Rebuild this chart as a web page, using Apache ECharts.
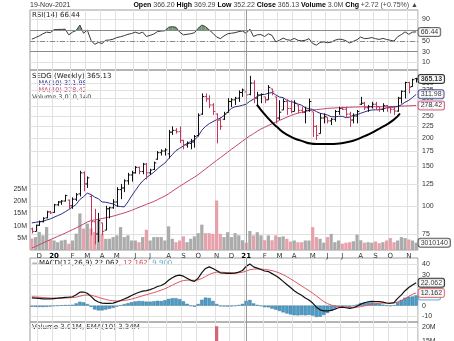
<!DOCTYPE html>
<html>
<head>
<meta charset="utf-8">
<script src="https://cdn.jsdelivr.net/npm/echarts@6/dist/echarts.min.js"></script>
<style>
html,body{margin:0;padding:0;background:#fff}
#chart{width:454px;height:341px}
</style>
</head>
<body>
<div id="chart"></div>
<script>
// Weekly bars (week-ending Fridays)
const weeks = ['2019-11-22','2019-11-29','2019-12-06','2019-12-13','2019-12-20','2019-12-27',
'2020-01-03','2020-01-10','2020-01-17','2020-01-24','2020-01-31','2020-02-07','2020-02-14','2020-02-21','2020-02-28',
'2020-03-06','2020-03-13','2020-03-20','2020-03-27','2020-04-03','2020-04-10','2020-04-17','2020-04-24',
'2020-05-01','2020-05-08','2020-05-15','2020-05-22','2020-05-29','2020-06-05','2020-06-12','2020-06-19','2020-06-26',
'2020-07-03','2020-07-10','2020-07-17','2020-07-24','2020-07-31','2020-08-07','2020-08-14','2020-08-21','2020-08-28',
'2020-09-04','2020-09-11','2020-09-18','2020-09-25','2020-10-02','2020-10-09','2020-10-16','2020-10-23','2020-10-30',
'2020-11-06','2020-11-13','2020-11-20','2020-11-27','2020-12-04','2020-12-11','2020-12-18','2020-12-25',
'2021-01-01','2021-01-08','2021-01-15','2021-01-22','2021-01-29','2021-02-05','2021-02-12','2021-02-19','2021-02-26',
'2021-03-05','2021-03-12','2021-03-19','2021-03-26','2021-04-02','2021-04-09','2021-04-16','2021-04-23','2021-04-30',
'2021-05-07','2021-05-14','2021-05-21','2021-05-28','2021-06-04','2021-06-11','2021-06-18','2021-06-25',
'2021-07-02','2021-07-09','2021-07-16','2021-07-23','2021-07-30','2021-08-06','2021-08-13','2021-08-20','2021-08-27',
'2021-09-03','2021-09-10','2021-09-17','2021-09-24','2021-10-01','2021-10-08','2021-10-15','2021-10-22','2021-10-29',
'2021-11-05','2021-11-12','2021-11-19'];

const opens = [79,77,82,85,88.5,94,93.5,101,104,105, 106,100,107,113,140,125,110,85,75,84,
  78,97,98,104,118,120,129,137,140,148, 142,153,140,145,161,172,175,170,212,216,
  213,195,186,189,192,205,255,305,298,280, 255,240,242,259,290,295,300,318,320,312,
  350,300,310,304,295,330,304,245,266,290, 270,262,280,265,260,265,261,225,209,245,
  247,238,242,262,270,268,255,240,250,282, 285,272,275,282,275,268,278,272,268,263,
  300,322,352,338,366.20];
const highs = [80,82.5,86,89,95,95,102,105,106,112, 106.5,109,114,143,142,135,112,97,93,84,
  100,99,107,121,125,131,140,143,150,149, 155,155,146,157,175,178,180,217,225,221,
  225,196,193,198,206,257,315,315,309,285, 257,247,261,300,300,304,325,331,325,377,
  360,320,315,304,343,330,304,294,299,297, 294,294,280,275,275,299,261,228,257,257,
  247,245,266,275,275,275,261,257,266,304, 289,280,289,289,275,285,280,276,275,304,
  325,355,355,366,369.29];
const lows = [75.5,77,81.5,84.5,88,92,93,100,101,104.5, 97,97,105,110,116,120,74,67.5,69,74,
  78,88,97,99,107,115,124,128,139,138, 138,131,137,144,160,167,167,162,206,209,
  190,178,181,178,181,203,253,289,271,253, 189,217,240,259,274,280,289,304,299,309,
  285,280,285,285,295,309,232,240,266,253, 257,262,257,257,232,261,202,196,209,232,
  232,228,236,253,266,245,224,232,232,280, 266,261,270,266,261,261,261,257,253,261,
  284,299,315,337,352.22];
const closes = [77,82,85,88,94,93,101,104,105,111, 100,107,112,140,125,133,85,75,86,77,
  97,98,104,118,120,129,137,140,148,142, 153,140,144,155,172,175,177,212,216,213,
  195,186,189,192,203,252,305,298,280,262, 240,225,255,290,295,300,318,326,310,350,
  300,310,312,295,335,320,245,260,290,270, 262,285,265,260,265,290,225,205,245,249,
  238,242,262,270,268,255,240,250,262,285, 272,275,282,275,268,278,272,268,263,300,
  322,352,335,362.41,365.13];
const priorClose = 79;

// Weekly volume, millions of shares
const volumes = [4.7,5.3,7.4,6.0,9.4,4.2,3.9,3.2,3.9,4.2, 2.6,3.9,6.7,15.0,8.8,10.8,8.8,7.4,12.2,6.7,
  4.6,4.6,5.3,6.0,9.4,5.3,6.0,3.9,3.9,3.2, 5.3,8.3,3.9,5.3,5.3,5.3,3.9,9.7,4.6,3.2,
  3.9,5.6,3.2,4.6,5.6,6.9,10.4,6.9,6.9,6.6, 20.3,6.6,5.3,7.3,5.3,6.9,6.0,4.0,3.0,7.8,
  6.0,7.3,6.0,4.0,6.0,4.0,6.0,5.3,5.6,4.6, 3.5,3.9,3.2,3.2,3.9,3.9,9.4,5.3,4.6,3.0,
  5.3,6.6,3.2,3.9,2.6,3.0,3.2,3.6,6.3,4.0, 3.0,3.2,3.0,3.5,2.8,3.2,3.9,4.9,3.2,3.9,
  5.3,4.9,4.3,3.9,3.01014];

const ma10 = [84,84.5,85,85.5,86.5,87.5,89,90.5,92,94.0, 96.3,98.8,101.5,106.7,109.8,113.8,112.2,109.3,107.4,104.0,
  103.7,102.8,102.0,99.8,99.3,98.9,104.1,110.6,116.8,123.3, 128.9,133.1,137.1,140.8,146.0,150.6,154.6,161.8,168.6,175.7,
  179.9,184.5,189.0,192.7,195.8,203.5,216.3,224.9,231.3,236.2, 240.7,244.6,251.2,261.0,270.2,275.0,276.3,279.1,282.1,290.9,
  296.9,305.4,311.1,311.6,315.6,317.6,310.3,303.7,301.7,293.7, 289.9,287.4,282.7,279.2,272.2,269.2,267.2,261.7,257.2,255.1,
  252.7,248.4,248.1,249.1,249.4,245.9,247.4,251.9,253.6,257.2, 260.6,263.9,265.9,266.4,266.4,268.7,271.9,273.7,273.8,275.3,
  280.3,288.0,293.3,302.0,311.98];
const ma40 = [65,66,67.2,68.4,69.6,70.8,72,73.2,74.4,75.6, 77,78.4,79.8,81.4,83,84.8,86,86.6,87.2,87.8,
  88.5,89.2,90,91,92,93,94.2,95.5,97,98.5, 100,101.5,103,104.5,106.5,108.5,110.5,113,116,119,
  122,125,128,131,134,137.5,141.5,145.5,150,154.5, 159,163.5,168,173,178,183,188,193.5,199,204,
  209,214,219,223,227,231,235,239,243,247, 251,254.5,257.5,260,262,264,265.5,267,268,269,
  270.5,271,271.5,272,272.5,273,273.5,274,274.3,274.6, 274.8,275,275,275,275,275,275.2,275.5,275.8,276.2,
  276.6,277,277.4,277.9,278.42];

const rsi14 = [53,56,59,63,66,65,70.5,71,71,71.5, 61,66,69,79,64,70,51,43.5,47,45,
  51,51.5,53,56,57.5,59.5,62,63.5,66,63.5, 66,58,60,62.5,67,68,68.5,75,76,75,
  66,61,62,63,65,73,79,76,70,64, 57,54,59,63,64,65,67,68,64,71.5,
  58,61,61.5,58,63,60,48,51,55,52, 51,54.5,51,50,51,54,45,42,47,48,
  46.5,47.5,51,53,52.5,50,46,49,52,57, 54,54.5,56,54,52.5,54.5,52.5,51,49.5,57.5,
  61.5,66.5,62,66,66.44];

const macdLine = [7.6,7.3,7.0,6.6,6.5,6.6,6.9,7.2,7.6,8.0, 8.2,8.6,10.5,13.0,13.2,12.0,9.0,5.5,3.5,2.4,
  2.2,2.2,2.5,3.6,5.0,6.5,8.0,9.8,11.5,13.0, 14.0,14.5,15.5,16.8,18.5,19.5,21.5,24.5,27.0,28.8,
  29.5,28.5,26.5,24.5,23.5,26.5,32.0,36.0,37.5,36.0, 34.0,31.8,31.5,31.2,31.3,31.5,32.5,34.0,38.0,40.3,
  37.5,36.3,35.0,33.5,33.0,31.0,29.0,26.5,23.5,20.5, 17.5,14.5,12.0,10.0,7.5,5.5,2.5,-1.5,-4.0,-5.0,
  -5.1,-4.5,-3.5,-2.0,-1.5,-2.0,-2.7,-2.0,-0.5,1.5, 2.8,3.8,4.2,4.0,3.9,3.5,2.6,2.3,3.0,7.0,
  10.5,14.5,17.5,20.0,22.062];
const macdSignal = [8.6,8.4,8.2,7.9,7.6,7.4,7.3,7.3,7.3,7.4, 7.6,7.8,8.3,9.2,10.0,10.4,10.1,9.2,8.1,7.0,
  6.0,5.2,4.7,4.5,4.6,5.0,5.6,6.4,7.4,8.5, 9.6,10.6,11.6,12.6,13.8,15.0,16.3,18.0,19.8,21.6,
  23.2,24.3,24.7,24.7,24.5,24.9,26.3,28.2,30.1,31.5, 32.4,32.4,32.2,32.0,31.9,31.8,31.9,32.3,33.4,34.8,
  35.3,35.5,35.4,35.0,34.6,33.9,32.9,31.6,30.0,28.1, 26.0,23.7,21.4,19.1,16.8,14.5,12.1,9.4,6.7,4.0,
  2.0,0.6,-0.3,-0.9,-1.1,-1.3,-1.6,-1.7,-1.5,-0.9, -0.2,0.6,1.3,1.8,2.2,2.5,2.5,2.5,2.6,3.5,
  4.9,6.8,8.9,11.1,12.162];

// Hand-drawn cup annotation: [week index, price]
const cupArc = [[60.9,281],[63.6,248],[66.3,224],[69.0,207],[72.6,195],[77.1,188],[80.7,188],
  [85.2,191.5],[89.7,202.5],[94.2,220.6],[97.8,239.8],[99.6,256.8]];

const priceTicks = [75,100,125,150,175,200,225,250,275,300,325,350];
const rsiTicks = [10,30,50,70,90];
const macdTicks = [-10,0,10,20,30,40];
const volTicks = [5,10,15,20,25];
const lowerVolTicks = [15,20];
const RSI_HIGH = 70, RSI_MID = 50, RSI_LOW = 30;

const monthInitials = ['J','F','M','A','M','J','J','A','S','O','N','D'];
const last = weeks.length - 1;
const upWeek = closes.map((c, i) => c >= (i ? closes[i - 1] : priorClose));
// MACD histogram is the MACD line minus its signal line
const macdHist = macdLine.map((v, i) => +(v - macdSignal[i]).toFixed(3));
const isMonthStart = (i) => i > 0 && weeks[i].slice(5, 7) !== weeks[i - 1].slice(5, 7);
const yearStart = weeks.indexOf('2021-01-01');

const FONT = '"DejaVu Sans", Verdana, sans-serif';
const NUMFONT = '"Liberation Sans", Arial, sans-serif';
const RED = '#c3385c';
const NAVY = '#2c2c86';
const GRID_LINE = '#e1e1e1';
const L = 30, W = 388;

const ohlcData = weeks.map((w, i) => [i, opens[i], highs[i], lows[i], closes[i]]);
const rsiData = rsi14.map((v, i) => [i, v]);
const volData = volumes.map((v, i) => ({ value: v, itemStyle: { color: upWeek[i] ? '#ababab' : '#e6a1ab' } }));
const lowerVolData = volumes.map((v, i) => ({ value: v, itemStyle: { color: upWeek[i] ? '#a0a0a0' : '#d46676' } }));

function xAxisFor(gridIndex, showLabels) {
  return {
    type: 'category', gridIndex, data: weeks, boundaryGap: true,
    axisLine: { show: false }, axisTick: { show: false },
    axisLabel: {
      show: showLabels, interval: (i) => isMonthStart(i), margin: 3,
      fontSize: 7, fontFamily: FONT, color: '#333',
      formatter: (v) => v.slice(5, 7) === '01' ? '{yr|' + v.slice(2, 4) + '}' : monthInitials[+v.slice(5, 7) - 1],
      rich: { yr: { fontWeight: 'bold', fontSize: 7, fontFamily: FONT, color: '#000' } }
    },
    splitLine: { show: true, interval: (i) => isMonthStart(i), lineStyle: { color: GRID_LINE, width: 1 } }
  };
}

function rightAxis(gridIndex, extra, ticks, fmt) {
  return Object.assign({
    gridIndex, position: 'right', scale: false,
    axisLine: { show: false },
    axisTick: { show: false, customValues: ticks },
    axisLabel: { customValues: ticks, fontSize: 7, fontFamily: NUMFONT, color: '#333', margin: 4, formatter: fmt },
    splitLine: { show: true, lineStyle: { color: GRID_LINE, width: 1 } }
  }, extra);
}

function tag(xAxisIndex, yAxisIndex, value, text, border, opts) {
  opts = opts || {};
  return {
    type: 'scatter', xAxisIndex, yAxisIndex, symbolSize: 1, silent: true, z: opts.z || 20,
    itemStyle: { color: 'rgba(0,0,0,0)' },
    data: [[last, value]],
    label: {
      show: true, position: 'right', distance: 2, formatter: text,
      fontSize: 7, fontFamily: NUMFONT, color: opts.color || '#000', fontWeight: opts.bold ? 'bold' : 'normal',
      backgroundColor: '#fff', borderColor: border, borderWidth: 1, borderRadius: 2, padding: [1, 2, 0, 2]
    }
  };
}

function yearLine() {
  return { silent: true, symbol: 'none', label: { show: false }, animation: false,
    lineStyle: { color: '#9a9a9a', width: 1, type: 'solid' }, data: [{ xAxis: yearStart }] };
}

function renderOhlc(params, api) {
  const i = api.value(0);
  const hi = api.coord([i, api.value(2)]);
  const lo = api.coord([i, api.value(3)]);
  const op = api.coord([i, api.value(1)]);
  const cl = api.coord([i, api.value(4)]);
  const x = Math.round(hi[0]) + 0.5;
  const style = { stroke: upWeek[params.dataIndex] ? '#111' : RED, lineWidth: 1 };
  return {
    type: 'group', children: [
      { type: 'line', shape: { x1: x, y1: hi[1], x2: x, y2: lo[1] }, style },
      { type: 'line', shape: { x1: x - 1.8, y1: op[1], x2: x, y2: op[1] }, style },
      { type: 'line', shape: { x1: x, y1: cl[1], x2: x + 1.8, y2: cl[1] }, style }
    ]
  };
}

// Shade the RSI where it runs above the overbought line
function renderRsiFill(params, api) {
  const i = params.dataIndex;
  if (i >= rsi14.length - 1) return;
  const v0 = rsi14[i], v1 = rsi14[i + 1];
  if (v0 <= RSI_HIGH && v1 <= RSI_HIGH) return;
  const a = api.coord([i, v0]), b = api.coord([i + 1, v1]);
  const a0 = api.coord([i, RSI_HIGH]), b0 = api.coord([i + 1, RSI_HIGH]);
  let pts;
  if (v0 > RSI_HIGH && v1 > RSI_HIGH) {
    pts = [a, b, b0, a0];
  } else {
    const t = (RSI_HIGH - v0) / (v1 - v0);
    const cross = [a[0] + t * (b[0] - a[0]), a0[1]];
    pts = v0 > RSI_HIGH ? [a, cross, a0] : [cross, b, b0];
  }
  return { type: 'polygon', shape: { points: pts }, style: { fill: '#6f9c72' } };
}

const chg = closes[last] - closes[last - 1];
const chgPct = chg / closes[last - 1] * 100;
const fmtInt = (n) => Math.round(n).toString().replace(/\B(?=(\d{3})+(?!\d))/g, ',');

const gridBox = (top, height) => ({ left: L, width: W, top, height, show: true,
  borderColor: '#9c9c9c', borderWidth: 1, containLabel: false, outerBoundsMode: 'none' });

const option = {
  animation: false,
  backgroundColor: '#fff',
  textStyle: { fontFamily: FONT },
  grid: [gridBox(10, 60), gridBox(70, 180), gridBox(258, 64), gridBox(322, 61)],
  xAxis: [
    xAxisFor(0, false), xAxisFor(1, true), xAxisFor(2, false), xAxisFor(3, false),
    { type: 'value', gridIndex: 1, min: -0.5, max: weeks.length - 0.5, show: false }
  ],
  yAxis: [
    rightAxis(0, { type: 'value', min: -3.8, max: 106.8 }, rsiTicks),
    rightAxis(1, { type: 'log', logBase: 10, min: 63.7, max: 400 }, priceTicks),
    { type: 'value', gridIndex: 1, position: 'left', min: 0, max: 73.8,
      axisLine: { show: false }, axisTick: { show: false, customValues: volTicks },
      axisLabel: { customValues: volTicks, formatter: '{value}M', fontSize: 7, fontFamily: NUMFONT, color: '#333', margin: 3 },
      splitLine: { show: false } },
    rightAxis(2, { type: 'value', min: -15.8, max: 46.1 }, macdTicks),
    rightAxis(3, { type: 'value', min: 0, max: 21.8 }, lowerVolTicks, '{value}M')
  ],
  series: [
    // RSI panel
    { type: 'custom', xAxisIndex: 0, yAxisIndex: 0, data: rsiData, renderItem: renderRsiFill,
      encode: { x: 0, y: 1 }, silent: true, z: 1 },
    { type: 'line', xAxisIndex: 0, yAxisIndex: 0, data: rsi14, symbol: 'none', silent: true, z: 3,
      lineStyle: { color: '#3a3a3a', width: 1 }, itemStyle: { color: '#3a3a3a' },
      markLine: { silent: true, symbol: 'none', label: { show: false }, animation: false,
        data: [
          { yAxis: RSI_HIGH, lineStyle: { color: '#8a8a8a', width: 1, type: 'solid' } },
          { yAxis: RSI_LOW, lineStyle: { color: '#8a8a8a', width: 1, type: 'solid' } },
          { yAxis: RSI_MID, lineStyle: { color: '#8a8a8a', width: 1, type: [5, 2, 1, 2] } },
          { xAxis: yearStart, lineStyle: { color: '#9a9a9a', width: 1, type: 'solid' } }
        ] } },
    // Price panel
    { type: 'bar', xAxisIndex: 1, yAxisIndex: 2, data: volData, barCategoryGap: '12%', silent: true, z: 1,
      markLine: yearLine() },
    { type: 'line', xAxisIndex: 1, yAxisIndex: 1, data: ma40, symbol: 'none', silent: true, z: 3,
      lineStyle: { color: '#c2466c', width: 1 } },
    { type: 'line', xAxisIndex: 1, yAxisIndex: 1, data: ma10, symbol: 'none', silent: true, z: 3,
      lineStyle: { color: NAVY, width: 1 } },
    { type: 'custom', xAxisIndex: 1, yAxisIndex: 1, data: ohlcData, renderItem: renderOhlc,
      encode: { x: 0, y: [1, 2, 3, 4] }, silent: true, z: 4, clip: true },
    { type: 'line', xAxisIndex: 4, yAxisIndex: 1, data: cupArc, symbol: 'none', smooth: 0.6, silent: true, z: 5,
      lineStyle: { color: '#000', width: 2 } },
    // MACD panel
    { type: 'bar', xAxisIndex: 2, yAxisIndex: 3, data: macdHist, barCategoryGap: '8%', silent: true, z: 1,
      itemStyle: { color: '#4d9dc8', borderColor: '#2f6f96', borderWidth: 0.4 },
      markLine: yearLine() },
    { type: 'line', xAxisIndex: 2, yAxisIndex: 3, data: macdSignal, symbol: 'none', silent: true, z: 3,
      lineStyle: { color: '#e0555f', width: 1 } },
    { type: 'line', xAxisIndex: 2, yAxisIndex: 3, data: macdLine, symbol: 'none', silent: true, z: 4,
      lineStyle: { color: '#111', width: 1.2 } },
    // Lower volume panel
    { type: 'bar', xAxisIndex: 3, yAxisIndex: 4, data: lowerVolData, barCategoryGap: '12%', silent: true, z: 1,
      markLine: yearLine() },
    // Value tags on the right edge
    tag(0, 0, rsi14[last], rsi14[last].toFixed(2), '#444'),
    tag(1, 2, volumes[last], String(Math.round(volumes[last] * 1e6)), '#333'),
    tag(1, 1, ma40[last], ma40[last].toFixed(2), '#c2466c'),
    tag(1, 1, ma10[last], ma10[last].toFixed(2), NAVY),
    tag(1, 1, closes[last], closes[last].toFixed(2), '#000', { bold: true, z: 22 }),
    tag(2, 3, macdHist[last], macdHist[last].toFixed(3), '#4d9dc8', { z: 19 }),
    tag(2, 3, macdSignal[last], macdSignal[last].toFixed(3), '#e0555f', { z: 20 }),
    tag(2, 3, macdLine[last], macdLine[last].toFixed(3), '#000', { z: 21 })
  ],
  graphic: [
    { type: 'text', x: 30, y: 5, silent: true,
      style: { text: '19-Nov-2021', font: '7px ' + NUMFONT, fill: '#333', verticalAlign: 'middle' } },
    { type: 'text', x: 418, y: 5, silent: true,
      style: {
        text: '{b|Open} ' + opens[last].toFixed(2) + ' {b|High} ' + highs[last].toFixed(2) +
          ' {b|Low} ' + lows[last].toFixed(2) + ' {b|Close} ' + closes[last].toFixed(2) +
          ' {b|Volume} ' + volumes[last].toFixed(1) + 'M {b|Chg} +' + chg.toFixed(2) +
          ' (+' + chgPct.toFixed(2) + '%) ▲',
        font: '7px ' + NUMFONT, fill: '#444', align: 'right', verticalAlign: 'middle',
        rich: { b: { fontWeight: 'bold', fill: '#000', fontSize: 7, fontFamily: NUMFONT } }
      } },
    { type: 'text', x: 32, y: 15, silent: true,
      style: { text: 'RSI(14) ' + rsi14[last].toFixed(2), font: '7px ' + FONT, fill: '#222', verticalAlign: 'middle' } },
    { type: 'text', x: 32, y: 76, silent: true,
      style: { text: 'SEDG (Weekly) ' + closes[last].toFixed(2), font: '7px ' + FONT, fill: '#111', verticalAlign: 'middle' } },
    { type: 'text', x: 32, y: 83, silent: true,
      style: { text: '—MA(10) ' + ma10[last].toFixed(2), font: '6.5px ' + FONT, fill: NAVY, verticalAlign: 'middle' } },
    { type: 'text', x: 32, y: 90, silent: true,
      style: { text: '—MA(40) ' + ma40[last].toFixed(2), font: '6.5px ' + FONT, fill: '#c2466c', verticalAlign: 'middle' } },
    { type: 'text', x: 32, y: 97, silent: true,
      style: { text: 'Volume ' + fmtInt(volumes[last] * 1e6), font: '6.5px ' + FONT, fill: '#444', verticalAlign: 'middle' } },
    { type: 'text', x: 32, y: 263, silent: true,
      style: {
        text: '—MACD(12,26,9) ' + macdLine[last].toFixed(3) + ', {r|' + macdSignal[last].toFixed(3) + '}, {c|' + macdHist[last].toFixed(3) + '}',
        font: '7px ' + FONT, fill: '#111', verticalAlign: 'middle',
        rich: { r: { fill: '#d6454f', fontSize: 7, fontFamily: FONT }, c: { fill: '#6aaed6', fontSize: 7, fontFamily: FONT } }
      } },
    { type: 'text', x: 32, y: 327, silent: true,
      style: { text: 'Volume 3.01M, EMA(10) 3.34M', font: '7px ' + FONT, fill: '#333', verticalAlign: 'middle' } }
  ]
};

const chart = echarts.init(document.getElementById('chart'), null, { renderer: 'canvas' });
chart.setOption(option);
</script>
</body>
</html>
